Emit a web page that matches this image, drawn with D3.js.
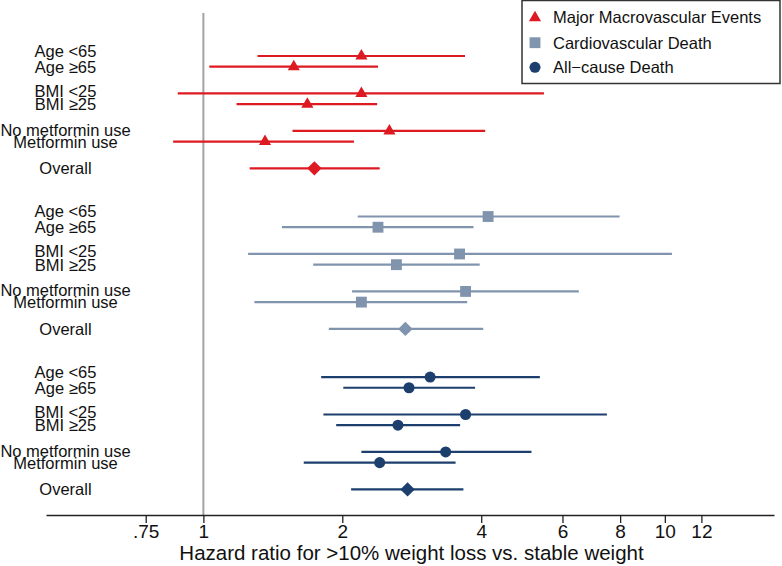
<!DOCTYPE html>
<html>
<head>
<meta charset="utf-8">
<script src="https://cdn.jsdelivr.net/npm/d3@7"></script>
<style>
  html, body { margin: 0; padding: 0; background: #fff; }
  svg { display: block; font-family: "Liberation Sans", Arial, Helvetica, sans-serif; }
</style>
</head>
<body>
<svg id="chart" width="782" height="566"></svg>
<script>
// ---------------- data ----------------
const subgroups = ["Age <65", "Age \u226565", "BMI <25", "BMI \u226525", "No metformin use", "Metformin use", "Overall"];
const outcomes = ["Major Macrovascular Events", "Cardiovascular Death", "All\u2212cause Death"];

const mmeHR = [2.20, 1.57, 2.20, 1.68, 2.53, 1.36, 1.74];
const mmeLo = [1.31, 1.03, 0.88, 1.18, 1.56, 0.86, 1.26];
const mmeHi = [3.69, 2.39, 5.47, 2.38, 4.08, 2.12, 2.41];

const cvdHR = [4.14, 2.39, 3.59, 2.62, 3.70, 2.20, 2.74];
const cvdLo = [2.16, 1.48, 1.25, 1.73, 2.10, 1.29, 1.87];
const cvdHi = [7.98, 3.85, 10.36, 3.97, 6.51, 3.73, 4.04];

const acdHR = [3.10, 2.79, 3.70, 2.64, 3.35, 2.41, 2.77];
const acdLo = [1.80, 2.01, 1.82, 1.94, 2.20, 1.65, 2.09];
const acdHi = [5.36, 3.88, 7.49, 3.60, 5.14, 3.52, 3.66];

const tickValues = [0.75, 1, 2, 4, 6, 8, 10, 12];
const tickLabels = [".75", "1", "2", "4", "6", "8", "10", "12"];
const xTitle = "Hazard ratio for >10% weight loss vs. stable weight";

// ---------------- layout / style ----------------
const colors = ["#dd1a22", "#8194ad", "#1d3f6d"];
const shapes = [d3.symbolTriangle, d3.symbolSquare, d3.symbolCircle];
const shapeSizes = [64, 118, 96];
const seriesHR = [mmeHR, cvdHR, acdHR];
const seriesLo = [mmeLo, cvdLo, acdLo];
const seriesHi = [mmeHi, cvdHi, acdHi];

const svg = d3.select("#chart");

const x = d3.scaleLog().domain([0.456, 17.24]).range([46, 774]);
// row units: pairs spaced 3.5 apart, overall at 10.5, groups 15 apart
const rowUnit = (g, i) => g * 15 + Math.floor(i / 2) * 3.5 + (i % 2);
const y = d3.scaleLinear().domain([0, 40.5]).range([56, 489.4]);

// reference line at HR = 1
svg.append("line")
  .attr("x1", x(1)).attr("x2", x(1))
  .attr("y1", 13).attr("y2", 515)
  .attr("stroke", "#a3a3a3").attr("stroke-width", 2);

// row labels
const firstShift = [0.7, 3.4, 5.0];
outcomes.forEach((o, g) => {
  subgroups.forEach((s, i) => {
    const yy = y(rowUnit(g, i));
    const dy = (i < 6 && i % 2 === 0) ? firstShift[Math.floor(i / 2)] : 6;
    svg.append("text")
      .attr("x", 65.5).attr("y", yy + dy)
      .attr("text-anchor", "middle")
      .attr("font-size", 16.5)
      .attr("fill", "#111")
      .text(s);
  });
});

// error bars and markers
outcomes.forEach((o, g) => {
  const grp = svg.append("g");
  subgroups.forEach((s, i) => {
    const yy = y(rowUnit(g, i));
    grp.append("line")
      .attr("x1", x(seriesLo[g][i])).attr("x2", x(seriesHi[g][i]))
      .attr("y1", yy).attr("y2", yy)
      .attr("stroke", colors[g]).attr("stroke-width", 2.2);
    if (i === 6) {
      grp.append("path")
        .attr("d", d3.symbol(d3.symbolSquare, 104)())
        .attr("transform", `translate(${x(seriesHR[g][i])},${yy}) rotate(45)`)
        .attr("fill", colors[g]);
    } else {
      grp.append("path")
        .attr("d", d3.symbol(shapes[g], shapeSizes[g])())
        .attr("transform", `translate(${x(seriesHR[g][i])},${yy})`)
        .attr("fill", colors[g]);
    }
  });
});

// x axis
const axis = d3.axisBottom(x)
  .tickValues(tickValues)
  .tickFormat((d, i) => tickLabels[i])
  .tickSize(8)
  .tickSizeOuter(0);
const ax = svg.append("g").attr("transform", "translate(0,515)").call(axis);
ax.select(".domain").attr("stroke", "#222").attr("stroke-width", 1.3);
ax.selectAll(".tick line").attr("stroke", "#222").attr("stroke-width", 1.3);
ax.selectAll(".tick text")
  .attr("font-family", "Liberation Sans, Arial, Helvetica, sans-serif")
  .attr("font-size", 19).attr("fill", "#111").attr("dy", 0).attr("y", 22.5);

svg.append("text")
  .attr("x", 411.5).attr("y", 559.5)
  .attr("text-anchor", "middle")
  .attr("font-size", 20.5)
  .attr("fill", "#111")
  .text(xTitle);

// legend
const lg = svg.append("g");
lg.append("rect")
  .attr("x", 522).attr("y", 0.5).attr("width", 258).attr("height", 83)
  .attr("fill", "#fff").attr("stroke", "#333").attr("stroke-width", 1.5);
const legendY = [16.7, 42.7, 67.3];
outcomes.forEach((o, g) => {
  lg.append("path")
    .attr("d", d3.symbol(shapes[g], shapeSizes[g])())
    .attr("transform", `translate(535,${legendY[g] + (g === 0 ? 1 : 0)})`)
    .attr("fill", colors[g]);
  lg.append("text")
    .attr("x", 553).attr("y", legendY[g] + 6)
    .attr("font-size", 16.5)
    .attr("fill", "#111")
    .text(o);
});
</script>
</body>
</html>
